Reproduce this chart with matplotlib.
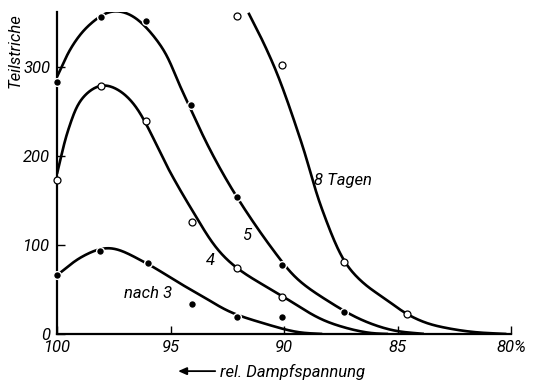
import numpy as np
import matplotlib
matplotlib.use("Agg")
import matplotlib.pyplot as plt
from matplotlib.patches import FancyArrowPatch

# measured points (rel. Dampfspannung in %, Teilstriche)
x_3 = [100, 98.1, 96.0, 94.05, 92.07, 90.1]
y_3 = [66, 93, 80, 34, 19, 19]
x_4 = [100, 98.06, 96.1, 94.05, 92.07, 90.1]
y_4 = [173, 279, 239, 126, 74, 42]
x_5 = [100, 98.06, 96.08, 94.1, 92.08, 90.1, 87.35]
y_5 = [283, 356, 352, 257, 154, 78, 25]
x_8 = [92.08, 90.07, 87.35, 84.6]
y_8 = [357, 302, 81, 22]

# hand drawn curves through the measurements
cx_3 = [100, 98.9, 97.7, 96.1, 94.6, 93.7, 92.4, 90.9, 89.4, 88.3]
cy_3 = [66, 87, 97, 80, 57, 44, 25, 12, 2, 0]
cx_4 = [100, 99.5, 98.9, 98.06, 97.4, 96.6, 95.0, 94.14, 92.96, 92.07,
        90.04, 88.4, 87.3, 86.2, 85.4]
cy_4 = [180, 230, 265, 280, 276, 258, 181, 143, 96, 74,
        42, 17, 7, 1, 0]
cx_5 = [100, 99.35, 98.6, 97.6, 96.7, 95.4, 94.5, 93.26, 92.08, 90.47, 89.43,
        88.0, 86.6, 85.2, 83.8]
cy_5 = [289, 323, 347, 363, 358, 323, 274, 207, 154, 94, 62,
        36, 16, 4, 0]
cx_8 = [91.57, 90.9, 90.25, 89.22, 88.34, 87.3, 86.5, 85.46, 84.6,
        83.7, 82.7, 81.6, 80.2]
cy_8 = [361, 327, 289, 214, 141, 80, 57, 38, 22.5,
        12, 6, 2, 0]

xticks = [100, 95, 90, 85, 80]
xticklabels = ["100", "95", "90", "85", "80%"]
yticks = [0, 100, 200, 300]

# rough screen scale (px per unit) so the curves are even on paper
SX, SY = 22.7, 0.89


def smooth(xs, ys, n=24, sigma=6.0):
    # centripetal Catmull-Rom through the nodes, then a light gaussian pass
    p = np.column_stack([np.asarray(xs) * SX, np.asarray(ys) * SY]).astype(float)
    p = np.vstack([2 * p[0] - p[1], p, 2 * p[-1] - p[-2]])
    out = []
    for i in range(1, len(p) - 2):
        p0, p1, p2, p3 = p[i - 1], p[i], p[i + 1], p[i + 2]
        t0 = 0.0
        t1 = t0 + np.linalg.norm(p1 - p0) ** 0.5
        t2 = t1 + np.linalg.norm(p2 - p1) ** 0.5
        t3 = t2 + np.linalg.norm(p3 - p2) ** 0.5
        t = np.linspace(t1, t2, n, endpoint=False)[:, None]
        a1 = (t1 - t) / (t1 - t0) * p0 + (t - t0) / (t1 - t0) * p1
        a2 = (t2 - t) / (t2 - t1) * p1 + (t - t1) / (t2 - t1) * p2
        a3 = (t3 - t) / (t3 - t2) * p2 + (t - t2) / (t3 - t2) * p3
        b1 = (t2 - t) / (t2 - t0) * a1 + (t - t0) / (t2 - t0) * a2
        b2 = (t3 - t) / (t3 - t1) * a2 + (t - t1) / (t3 - t1) * a3
        out.append((t2 - t) / (t2 - t1) * b1 + (t - t1) / (t2 - t1) * b2)
    out.append(p[-2][None, :])
    c = np.vstack(out)

    # resample by arc length (1 px steps)
    s = np.concatenate([[0], np.cumsum(np.hypot(*np.diff(c, axis=0).T))])
    ss = np.arange(0, s[-1], 1.0)
    c = np.column_stack([np.interp(ss, s, c[:, 0]), np.interp(ss, s, c[:, 1])])

    # gaussian smoothing with odd reflection at both ends
    k = int(3 * sigma)
    w = np.exp(-0.5 * (np.arange(-k, k + 1) / sigma) ** 2)
    w /= w.sum()
    head = 2 * c[0] - c[k:0:-1]
    tail = 2 * c[-1] - c[-2:-k - 2:-1]
    padded = np.vstack([head, c, tail])
    sm = np.column_stack([np.convolve(padded[:, j], w, mode="valid")
                          for j in range(2)])
    return sm[:, 0] / SX, sm[:, 1] / SY


plt.rcParams["font.family"] = ["Roboto", "DejaVu Sans"]
plt.rcParams["font.style"] = "italic"
FS = 12

fig = plt.figure(figsize=(5.38, 3.83), dpi=100)
ax = fig.add_axes([0.106, 0.128, 0.844, 0.841])

for cx, cy in [(cx_3, cy_3), (cx_4, cy_4), (cx_5, cy_5), (cx_8, cy_8)]:
    sx, sy = smooth(cx, cy)
    ax.plot(sx, np.clip(sy, 0, None), color="black", lw=1.9,
            solid_capstyle="butt", zorder=2)

for xs, ys in [(x_3, y_3), (x_5, y_5)]:
    ax.plot(xs, ys, "o", ms=5.6, mfc="black", mec="white", mew=1.0,
            zorder=3, clip_on=False)
for xs, ys in [(x_4, y_4), (x_8, y_8)]:
    ax.plot(xs, ys, "o", ms=5.0, mfc="white", mec="black", mew=0.9,
            zorder=3, clip_on=False)

ax.set_xlim(100, 80)
ax.set_ylim(0, 362)
ax.spines["top"].set_visible(False)
ax.spines["right"].set_visible(False)
ax.spines["left"].set_linewidth(1.6)
ax.spines["bottom"].set_linewidth(1.6)
ax.set_xticks(xticks)
ax.set_xticklabels(xticklabels)
ax.set_yticks(yticks)
ax.tick_params(direction="in", length=6, width=1.0, labelsize=FS, pad=4)
ax.tick_params(axis="y", pad=5)

ax.set_ylabel("Teilstriche", fontsize=FS)
ax.yaxis.set_label_coords(-0.075, 0.88)

ax.text(95.99, 45, "nach 3", fontsize=FS, ha="center", va="center")
ax.text(93.26, 83, "4", fontsize=FS, ha="center", va="center")
ax.text(91.63, 111, "5", fontsize=FS, ha="center", va="center")
ax.text(87.4, 173, "8 Tagen", fontsize=FS, ha="center", va="center")

fig.text(0.409, 0.029, "rel. Dampfspannung", fontsize=FS, ha="left",
         va="center")
fig.add_artist(FancyArrowPatch(
    (0.400, 0.031), (0.331, 0.031), transform=fig.transFigure,
    arrowstyle="-|>,head_length=5,head_width=2.2", lw=1.3, color="black",
    shrinkA=0, shrinkB=0))

fig.savefig("out.png", dpi=100)
